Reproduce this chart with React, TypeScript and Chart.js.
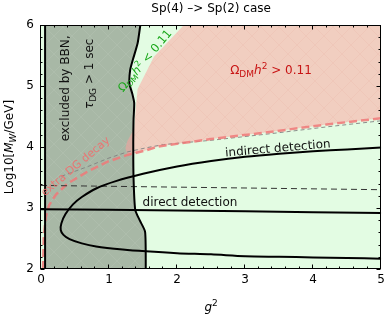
import React, { useEffect, useRef } from "react";
import { Chart, registerables } from "chart.js";

Chart.register(...registerables);

type P = [number, number];

// ---- axes ----
const X_RANGE: P = [0, 5];
const Y_RANGE: P = [2, 6];
const X_TICKS = [0, 1, 2, 3, 4, 5];
const Y_TICKS = [2, 3, 4, 5, 6];
const MINOR_STEP = 0.2;

// ---- regions / curves (x = g^2, y = log10 M_W) ----
const PLOT_BOX: P[] = [[0, 2], [5, 2], [5, 6], [0, 6]];
const BBN_LEFT: P[] = [[0.06, 2], [0.06, 6]];
const BBN_EDGE: P[] = [
  [1.46, 6.0], [1.42, 5.7], [1.35, 5.43], [1.31, 5.26], [1.3, 5.04], [1.34, 4.88],
  [1.37, 4.72], [1.36, 4.44], [1.356, 4.07], [1.36, 3.5], [1.385, 2.97], [1.45, 2.8],
  [1.53, 2.61], [1.54, 2.0],
];
const RELIC_EDGE: P[] = [
  [1.27, 3.88], [1.24, 3.98], [1.27, 4.1], [1.32, 4.2], [1.37, 4.3], [1.39, 4.6],
  [1.42, 4.95], [1.66, 5.48], [2.1, 6.0], [5, 6.0],
];
const DG_DECAY: P[] = [
  [0.03, 2.0], [0.04, 2.5], [0.07, 2.85], [0.12, 3.05], [0.22, 3.22], [0.39, 3.4],
  [0.69, 3.6], [0.98, 3.76], [1.27, 3.87], [1.56, 3.95], [1.73, 4.01], [2.5, 4.13],
  [3.39, 4.25], [4.2, 4.37], [5.0, 4.47],
];
const DG_DECAY_GREY: P[] = [
  [0.3, 3.52], [0.69, 3.68], [1.0, 3.82], [1.27, 3.92], [1.56, 3.99], [1.8, 4.04],
  [2.5, 4.11], [3.39, 4.22], [4.2, 4.33], [5.0, 4.43],
];
const TAU_LINE: P[] = [[0, 3.37], [5, 3.3]];
const DIRECT: P[] = [[0, 2.98], [1, 2.97], [2, 2.96], [3, 2.945], [4, 2.93], [5, 2.92]];
const INDIRECT: P[] = [
  [5.0, 3.99], [4.5, 3.96], [4.0, 3.93], [3.5, 3.89], [3.0, 3.84], [2.5, 3.77],
  [2.0, 3.68], [1.5, 3.56], [1.1, 3.44], [0.81, 3.32], [0.6, 3.18], [0.47, 3.06],
  [0.36, 2.9], [0.3, 2.75], [0.29, 2.64], [0.33, 2.56], [0.42, 2.49], [0.6, 2.42],
  [0.81, 2.37], [1.2, 2.32], [1.54, 2.29], [2.0, 2.26], [2.5, 2.24], [3.0, 2.21],
  [3.5, 2.2], [4.0, 2.19], [4.5, 2.18], [5.0, 2.17],
];

const TITLE = "Sp(4) \u2013> Sp(2) case";
const FAM = '"DejaVu Sans", sans-serif';

type Run = { t: string; it?: boolean; sub?: boolean; sup?: boolean };
type Note = { runs: Run[]; x: number; y: number; rot: number; size: number; color: string };

const NOTES: Note[] = [
  { runs: [{ t: "excluded by BBN," }], x: 0.35, y: 4.96, rot: -90, size: 12, color: "#111" },
  { runs: [{ t: "\u03c4", it: true }, { t: "DG", sub: true }, { t: " > 1 sec" }], x: 0.7, y: 5.2, rot: -90, size: 12, color: "#111" },
  { runs: [{ t: "extra DG decay" }], x: 0.5, y: 3.69, rot: -40, size: 11, color: "rgba(240,110,110,0.9)" },
  { runs: [{ t: "\u03a9" }, { t: "DM", sub: true }, { t: "h", it: true }, { t: "2", sup: true }, { t: " < 0.11" }], x: 1.52, y: 5.42, rot: -50, size: 11.5, color: "#1aa81a" },
  { runs: [{ t: "\u03a9" }, { t: "DM", sub: true }, { t: "h", it: true }, { t: "2", sup: true }, { t: " > 0.11" }], x: 3.38, y: 5.26, rot: 0, size: 12, color: "#c81414" },
  { runs: [{ t: "indirect detection" }], x: 3.48, y: 3.99, rot: -5, size: 12, color: "#111" },
  { runs: [{ t: "direct detection" }], x: 2.19, y: 3.11, rot: 0, size: 12, color: "#111" },
];

function toXY(pts: P[]) {
  return pts.map(([x, y]) => ({ x, y }));
}

function hatch(base: string, lineColor: string): CanvasPattern | string {
  const c = document.createElement("canvas");
  c.width = 18;
  c.height = 18;
  const g = c.getContext("2d");
  if (!g) return base;
  g.fillStyle = base;
  g.fillRect(0, 0, 18, 18);
  g.strokeStyle = lineColor;
  g.lineWidth = 1;
  g.beginPath();
  g.moveTo(0, 0);
  g.lineTo(18, 18);
  g.moveTo(18, 0);
  g.lineTo(0, 18);
  g.stroke();
  const p = g.createPattern(c, "repeat");
  return p || base;
}

function drawRich(ctx: CanvasRenderingContext2D, runs: Run[], cx: number, cy: number, deg: number, size: number, color: string) {
  const small = Math.round(size * 0.72);
  const fontOf = (r: Run) => `${r.it ? "italic " : ""}${r.sub || r.sup ? small : size}px ${FAM}`;
  let w = 0;
  const widths = runs.map((r) => {
    ctx.font = fontOf(r);
    const m = ctx.measureText(r.t).width;
    w += m;
    return m;
  });
  ctx.save();
  ctx.translate(cx, cy);
  ctx.rotate((deg * Math.PI) / 180);
  ctx.fillStyle = color;
  ctx.textBaseline = "alphabetic";
  ctx.textAlign = "left";
  let xo = -w / 2;
  const base = size * 0.36;
  runs.forEach((r, i) => {
    ctx.font = fontOf(r);
    const dy = r.sub ? size * 0.22 : r.sup ? -size * 0.42 : 0;
    ctx.fillText(r.t, xo, base + dy);
    xo += widths[i];
  });
  ctx.restore();
}

const overlay = {
  id: "overlay",
  afterDatasetsDraw(chart: any) {
    const { ctx, chartArea: a, scales } = chart;
    const xs = scales.x;
    const ys = scales.y;
    ctx.save();
    NOTES.forEach((n) => {
      drawRich(ctx, n.runs, xs.getPixelForValue(n.x), ys.getPixelForValue(n.y), n.rot, n.size, n.color);
    });
    ctx.strokeStyle = "#000";
    ctx.lineWidth = 1;
    const L = Math.round(a.left) - 0.5;
    const R = Math.round(a.right) - 0.5;
    const T = Math.round(a.top) + 0.5;
    const B = Math.round(a.bottom) - 0.5;
    ctx.strokeRect(L, T, R - L, B - T);
    ctx.beginPath();
    const nx = Math.round((X_RANGE[1] - X_RANGE[0]) / MINOR_STEP);
    for (let i = 0; i <= nx; i++) {
      const v = X_RANGE[0] + i * MINOR_STEP;
      const major = X_TICKS.some((t) => Math.abs(t - v) < 1e-6);
      const len = major ? 4 : 2;
      const px = Math.round(xs.getPixelForValue(v)) - 0.5;
      ctx.moveTo(px, B);
      ctx.lineTo(px, B - len);
      ctx.moveTo(px, T);
      ctx.lineTo(px, T + len);
    }
    const ny = Math.round((Y_RANGE[1] - Y_RANGE[0]) / MINOR_STEP);
    for (let i = 0; i <= ny; i++) {
      const v = Y_RANGE[0] + i * MINOR_STEP;
      const major = Y_TICKS.some((t) => Math.abs(t - v) < 1e-6);
      const len = major ? 4 : 2;
      const py = Math.round(ys.getPixelForValue(v)) + 0.5;
      ctx.moveTo(L, py);
      ctx.lineTo(L + len, py);
      ctx.moveTo(R, py);
      ctx.lineTo(R - len, py);
    }
    ctx.stroke();
    ctx.fillStyle = "#000";
    ctx.font = `12px ${FAM}`;
    ctx.textAlign = "center";
    ctx.textBaseline = "middle";
    ctx.fillText(TITLE, (a.left + a.right) / 2, a.top - 16);
    drawRich(ctx, [{ t: "g", it: true }, { t: "2", sup: true }], (a.left + a.right) / 2, a.bottom + 38, 0, 12, "#000");
    drawRich(
      ctx,
      [{ t: "Log10[" }, { t: "M", it: true }, { t: "W", it: true, sub: true }, { t: "/GeV]" }],
      9,
      (a.top + a.bottom) / 2,
      -90,
      12,
      "#000"
    );
    ctx.restore();
  },
};

export default function App() {
  const ref = useRef<HTMLCanvasElement | null>(null);
  useEffect(() => {
    if (!ref.current) return;
    const line = (pts: P[], color: string, width: number, dash: number[] = [], order = 1, tension = 0) => ({
      data: toXY(pts),
      showLine: true,
      borderColor: color,
      borderWidth: width,
      borderDash: dash,
      pointRadius: 0,
      fill: false,
      tension,
      order,
    });
    const area = (pts: P[], color: any, order: number) => ({
      data: toXY(pts),
      showLine: true,
      borderColor: "rgba(0,0,0,0)",
      borderWidth: 0,
      backgroundColor: color,
      pointRadius: 0,
      fill: "shape",
      order,
    });
    const pinkPoly: P[] = [...RELIC_EDGE, ...DG_DECAY.filter((p) => p[0] >= 1.27).reverse()];
    const greyPoly: P[] = [...BBN_LEFT, ...BBN_EDGE];
    const chart = new Chart(ref.current, {
      type: "scatter",
      data: {
        datasets: [
          area(PLOT_BOX, "rgb(227,252,227)", 30),
          area(greyPoly, hatch("rgb(168,184,166)", "rgba(255,255,255,0.07)"), 29),
          area(pinkPoly, hatch("rgba(255,160,158,0.5)", "rgba(200,80,70,0.06)"), 28),
          line(DG_DECAY_GREY, "rgba(130,130,130,0.9)", 1, [4, 3], 12),
          line(DG_DECAY, "rgba(240,120,120,0.85)", 2.5, [8, 4], 11),
          line(TAU_LINE, "#333", 1, [6, 4], 10),
          line(DIRECT, "#000", 2, [], 9),
          line(INDIRECT, "#000", 2, [], 8, 0.3),
          line(BBN_LEFT, "#000", 2, [], 7),
          line(BBN_EDGE, "#000", 2, [], 6, 0.2),
        ] as any,
      },
      options: {
        responsive: false,
        animation: false,
        events: [],
        layout: { padding: { top: 25, right: 5, left: 0, bottom: 0 } },
        plugins: { legend: { display: false }, tooltip: { enabled: false }, title: { display: false } },
        scales: {
          x: {
            type: "linear",
            min: X_RANGE[0],
            max: X_RANGE[1],
            grid: { display: false, drawTicks: false },
            border: { display: false },
            afterBuildTicks: (s: any) => {
              s.ticks = X_TICKS.map((v) => ({ value: v }));
            },
            ticks: { padding: 4, color: "#000", font: { family: FAM, size: 12 }, maxRotation: 0, autoSkip: false },
            afterFit: (s: any) => {
              s.height = 50;
            },
          },
          y: {
            type: "linear",
            min: Y_RANGE[0],
            max: Y_RANGE[1],
            grid: { display: false, drawTicks: false },
            border: { display: false },
            afterBuildTicks: (s: any) => {
              s.ticks = Y_TICKS.map((v) => ({ value: v }));
            },
            ticks: { padding: 7, color: "#000", font: { family: FAM, size: 12 }, autoSkip: false },
            afterFit: (s: any) => {
              s.width = 41;
            },
          },
        },
      } as any,
      plugins: [overlay],
    });
    return () => chart.destroy();
  }, []);
  return (
    <div style={{ position: "absolute", left: 0, top: 0, width: 389, height: 319 }}>
      <canvas ref={ref} width={389} height={319} style={{ display: "block" }} />
    </div>
  );
}
